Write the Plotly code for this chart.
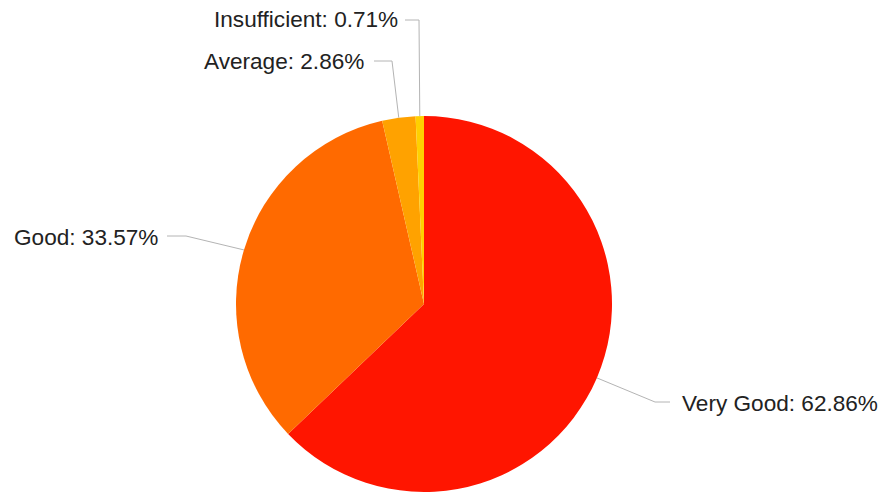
import math
import plotly.graph_objects as go

categories = ["Very Good", "Good", "Average", "Insufficient"]
counts = [88, 47, 4, 1]
colors = ["#ff1500", "#ff6a00", "#ffa200", "#ffd000"]

W, H = 891, 493
OFF = 8  # page body margin offset
CX, CY, R = 424 - OFF, 304 - OFF, 188

# label layout (pixels, page coords): text anchor x, y, xanchor, elbow point, line end x
label_layout = [
    dict(tx=680, ty=403, xa="left", ex=655, ey=402, lx=670),
    dict(tx=160, ty=238, xa="right", ex=186, ey=236, lx=167),
    dict(tx=366, ty=62, xa="right", ex=392, ey=61, lx=374),
    dict(tx=400, ty=20, xa="right", ex=419, ey=20, lx=405),
]

total = sum(counts)
pcts = [c / total * 100 for c in counts]

fig = go.Figure(go.Pie(
    labels=categories, values=counts, sort=False, direction="clockwise",
    rotation=0, marker=dict(colors=colors, line=dict(width=0)),
    textinfo="none", hoverinfo="label+percent", showlegend=False,
    domain=dict(x=[(CX - R) / W, (CX + R) / W], y=[1 - (CY + R) / H, 1 - (CY - R) / H]),
))

def px(x):
    return (x - OFF) / W

def py(y):
    return 1 - (y - OFF) / H

shapes, annotations = [], []
cum = 0.0
for cat, p, lay in zip(categories, pcts, label_layout):
    mid = (cum + p / 2) / 100 * 2 * math.pi
    cum += p
    sx = CX + OFF + R * math.sin(mid)
    sy = CY + OFF - R * math.cos(mid)
    path = f"M {px(sx)} {py(sy)} L {px(lay['ex'])} {py(lay['ey'])} L {px(lay['lx'])} {py(lay['ey'])}"
    shapes.append(dict(type="path", xref="paper", yref="paper", path=path,
                       line=dict(color="#b4b4b4", width=1)))
    annotations.append(dict(
        x=px(lay["tx"]), y=py(lay["ty"]), xref="paper", yref="paper",
        xanchor=lay["xa"], yanchor="middle", showarrow=False,
        text=f"{cat}: {p:.2f}%",
        font=dict(family="Liberation Sans, Arial", size=22.6, color="#222222"),
    ))

fig.update_layout(
    width=W, height=H, margin=dict(l=0, r=0, t=0, b=0),
    paper_bgcolor="white", plot_bgcolor="white",
    shapes=shapes, annotations=annotations,
)

fig.write_html("out.html")
